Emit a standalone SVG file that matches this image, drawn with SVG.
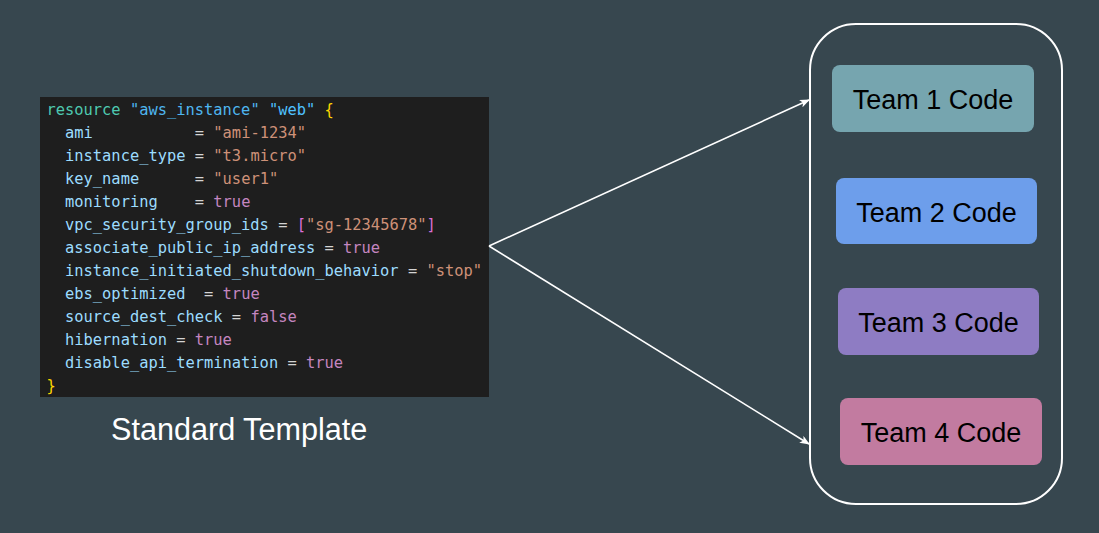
<svg xmlns="http://www.w3.org/2000/svg" width="1099" height="533" viewBox="0 0 1099 533">
  <defs>
    <marker id="arr" viewBox="0 0 10 8" refX="9" refY="4" markerWidth="10" markerHeight="8" markerUnits="userSpaceOnUse" orient="auto">
      <path d="M0,0 L10,4 L0,8 L2.5,4 z" fill="#FFFFFF"/>
    </marker>
    <style>
      .code { font-family: "DejaVu Sans Mono", "Liberation Mono", monospace; font-size: 15.4px; white-space: pre; fill: #9CDCFE; }
      .kw { fill: #4EC9B0; }
      .lbl { fill: #4FB6F0; }
      .lbl2 { fill: #4FC1FF; }
      .eq { fill: #D4D4D4; }
      .str { fill: #CE9178; }
      .bool { fill: #C586C0; }
      .brace { fill: #FFD700; }
      .brk { fill: #DA70D6; }
      .team { font-family: "Liberation Sans", Arial, sans-serif; font-size: 27px; fill: #000000; text-anchor: middle; }
      .caption { font-family: "Liberation Sans", Arial, sans-serif; font-size: 30.6px; fill: #FFFFFF; }
      .conn { stroke: #FFFFFF; stroke-width: 1.6; fill: none; }
    </style>
  </defs>
  <rect x="0" y="0" width="1099" height="533" fill="#37474F"/>

  <g id="template">
    <rect x="40" y="97" width="449" height="300" fill="#1E1E1E"/>
    <text class="code" x="46.5" y="115"><tspan class="kw">resource</tspan> <tspan class="lbl">"aws_instance"</tspan> <tspan class="lbl2">"web"</tspan> <tspan class="brace">{</tspan></text>
    <text class="code" x="46.5" y="138">  ami           <tspan class="eq">=</tspan> <tspan class="str">"ami-1234"</tspan></text>
    <text class="code" x="46.5" y="161">  instance_type <tspan class="eq">=</tspan> <tspan class="str">"t3.micro"</tspan></text>
    <text class="code" x="46.5" y="184">  key_name      <tspan class="eq">=</tspan> <tspan class="str">"user1"</tspan></text>
    <text class="code" x="46.5" y="207">  monitoring    <tspan class="eq">=</tspan> <tspan class="bool">true</tspan></text>
    <text class="code" x="46.5" y="230">  vpc_security_group_ids <tspan class="eq">=</tspan> <tspan class="brk">[</tspan><tspan class="str">"sg-12345678"</tspan><tspan class="brk">]</tspan></text>
    <text class="code" x="46.5" y="253">  associate_public_ip_address <tspan class="eq">=</tspan> <tspan class="bool">true</tspan></text>
    <text class="code" x="46.5" y="276">  instance_initiated_shutdown_behavior <tspan class="eq">=</tspan> <tspan class="str">"stop"</tspan></text>
    <text class="code" x="46.5" y="299">  ebs_optimized  <tspan class="eq">=</tspan> <tspan class="bool">true</tspan></text>
    <text class="code" x="46.5" y="322">  source_dest_check <tspan class="eq">=</tspan> <tspan class="bool">false</tspan></text>
    <text class="code" x="46.5" y="345">  hibernation <tspan class="eq">=</tspan> <tspan class="bool">true</tspan></text>
    <text class="code" x="46.5" y="368">  disable_api_termination <tspan class="eq">=</tspan> <tspan class="bool">true</tspan></text>
    <text class="code" x="46.5" y="391"><tspan class="brace">}</tspan></text>
  </g>

  <g id="caption">
    <text class="caption" x="111" y="440">Standard Template</text>
  </g>

  <g id="container">
    <rect x="810" y="24" width="252" height="480" rx="46" ry="46" fill="none" stroke="#FFFFFF" stroke-width="2"/>
  </g>

  <g id="team1">
    <rect x="832" y="65" width="202" height="67" rx="8" fill="#76A5AF"/>
    <text class="team" x="933" y="109">Team 1 Code</text>
  </g>
  <g id="team2">
    <rect x="836" y="178" width="201" height="66" rx="8" fill="#6D9EEB"/>
    <text class="team" x="936.5" y="222">Team 2 Code</text>
  </g>
  <g id="team3">
    <rect x="838" y="288" width="201" height="67" rx="8" fill="#8E7CC3"/>
    <text class="team" x="938.5" y="332">Team 3 Code</text>
  </g>
  <g id="team4">
    <rect x="840" y="398" width="202" height="67" rx="8" fill="#C27BA0"/>
    <text class="team" x="941" y="442">Team 4 Code</text>
  </g>

  <g id="connectors">
    <line class="conn" x1="489" y1="246" x2="809" y2="100" marker-end="url(#arr)"/>
    <line class="conn" x1="489" y1="246" x2="809" y2="444" marker-end="url(#arr)"/>
  </g>
</svg>
